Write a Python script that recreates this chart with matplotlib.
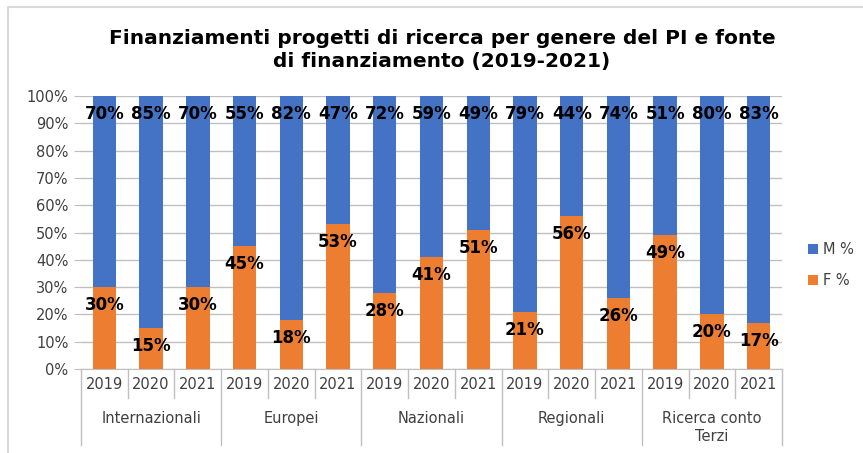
import numpy as np
import matplotlib
matplotlib.use("Agg")
import matplotlib.pyplot as plt
from matplotlib.lines import Line2D
import matplotlib.transforms as mtransforms

# data
groups = ["Internazionali", "Europei", "Nazionali", "Regionali", "Ricerca conto\nTerzi"]
years = ["2019", "2020", "2021"]
f_pct = [30, 15, 30, 45, 18, 53, 28, 41, 51, 21, 56, 26, 49, 20, 17]
m_pct = [70, 85, 70, 55, 82, 47, 72, 59, 49, 79, 44, 74, 51, 80, 83]

blue = "#4472C4"
orange = "#ED7D31"
grey_txt = "#404040"

plt.rcParams['font.family'] = ['DejaVu Sans']

fig = plt.figure(figsize=(8.63, 4.53), dpi=100)
ax = fig.add_axes([81 / 863, 1 - 369 / 453, 701 / 863, 273 / 453])

x = np.arange(len(f_pct))
f = np.array(f_pct) / 100
m = np.array(m_pct) / 100
bars_f = ax.bar(x, f, width=0.5, color=orange, label="F %", zorder=2)
bars_m = ax.bar(x, m, bottom=f, width=0.5, color=blue, label="M %", zorder=2)

# value labels, inside end of each segment
for i in range(len(x)):
    ax.annotate(f"{f_pct[i]}%", (x[i], f[i]), xytext=(0, -13), textcoords="offset points",
                ha="center", va="center", fontsize=12, fontweight="bold", zorder=3)
    ax.annotate(f"{m_pct[i]}%", (x[i], f[i] + m[i]), xytext=(0, -13), textcoords="offset points",
                ha="center", va="center", fontsize=12, fontweight="bold", zorder=3)

ax.set_xlim(-0.5, len(x) - 0.5)
ax.set_ylim(0, 1)
ax.set_yticks(np.arange(0, 1.01, 0.1))
ax.set_yticklabels([f"{int(round(v * 100))}%" for v in np.arange(0, 1.01, 0.1)])
ax.tick_params(axis="y", length=5, color="#bfbfbf", labelsize=10.5, labelcolor=grey_txt, pad=4)
ax.set_xticks([])
ax.grid(axis="y", color="#c0c0c0", linewidth=1, zorder=0)
for s in ["top", "right", "left"]:
    ax.spines[s].set_visible(False)
ax.spines["bottom"].set_color("#bfbfbf")

# multi-level category axis
trans = mtransforms.blended_transform_factory(ax.transData, ax.transAxes)
for i in range(len(x)):
    ax.text(x[i], -0.058, years[i % 3], transform=trans, ha="center", va="center",
            fontsize=10.5, color=grey_txt)
for b in np.arange(-0.5, len(x), 1):
    low = -0.278 if (b + 0.5) % 3 == 0 else -0.106
    ax.plot([b, b], [0, low], transform=trans, color="#bfbfbf", lw=1, clip_on=False)
for g, name in enumerate(groups):
    cx = g * 3 + 1
    if "\n" in name:
        ax.text(cx, -0.215, name, transform=trans, ha="center", va="center",
                fontsize=10.5, color=grey_txt, linespacing=1.25)
    else:
        ax.text(cx, -0.18, name, transform=trans, ha="center", va="center",
                fontsize=10.5, color=grey_txt)

fig.text(442 / 863, 1 - 50 / 453,
         "Finanziamenti progetti di ricerca per genere del PI e fonte\ndi finanziamento (2019-2021)",
         ha="center", va="center", fontsize=14.5, fontweight="bold", linespacing=1.2)

fig.legend(handles=[bars_m, bars_f], loc="center left", bbox_to_anchor=(795 / 863, 1 - 265 / 453),
           frameon=False, fontsize=10.5, labelcolor=grey_txt, handlelength=0.7, handleheight=0.7,
           handletextpad=0.3, labelspacing=1.1)

# chart frame: only the left and top edges fall inside the picture
fig.lines.append(Line2D([8 / 863, 8 / 863, 1.0], [0, 1 - 7 / 453, 1 - 7 / 453],
                        transform=fig.transFigure, color="#d9d9d9", lw=1.5))

fig.savefig("out.png", dpi=100)
